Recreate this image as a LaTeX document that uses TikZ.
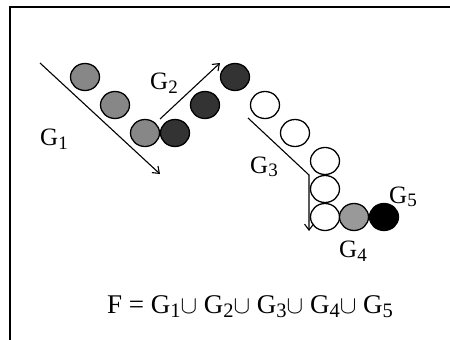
\documentclass[tikz,border=0pt]{standalone}
\usepackage{fontspec}
\setmainfont{Liberation Serif}
\usetikzlibrary{arrows.meta,shapes.geometric}
\newcommand\gsub[1]{\raisebox{-3.5pt}{\fontsize{19}{19}\selectfont #1}}
\newcommand\fsub[1]{\raisebox{-3.8pt}{\fontsize{20.5}{20.5}\selectfont #1}}
\definecolor{gmid}{HTML}{878787}
\definecolor{gdark}{HTML}{333333}
\definecolor{glight}{HTML}{999999}
\tikzset{
  ball/.style={ellipse, draw=black, line width=1.3pt, minimum width=29pt, minimum height=27pt, inner sep=0pt},
  lab/.style={font=\fontsize{25}{25}\selectfont, inner sep=0pt},
  flab/.style={font=\fontsize{27}{27}\selectfont, inner sep=0pt},
  arr/.style={line width=1.1pt, -{Straight Barb[length=6pt,width=9pt,line width=1.1pt]}}
}
\begin{document}
\begin{tikzpicture}[x=1pt,y=-1pt]
\useasboundingbox (0,0) rectangle (450,340);
\fill[white] (0,0) rectangle (450,340);
\draw[line width=1.3pt] (10,341) -- (10,7) -- (451,7);
% G1
\node[ball, fill=gmid] (a1) at (85,77) {};
\node[ball, fill=gmid] (a2) at (115,105) {};
\node[ball, fill=gmid] (a3) at (145,133) {};
% G2
\node[ball, fill=gdark] (b1) at (175,133) {};
\node[ball, fill=gdark] (b2) at (205,105) {};
\node[ball, fill=gdark] (b3) at (235,77) {};
% G3
\node[ball, fill=white] (c1) at (265,105) {};
\node[ball, fill=white] (c2) at (295,133) {};
\node[ball, fill=white] (c3) at (325,161) {};
\node[ball, fill=white] (c4) at (325,189) {};
\node[ball, fill=white] (c5) at (325,217) {};
% G4, G5
\node[ball, fill=glight] (d1) at (354,217) {};
\node[ball, fill=black] (e1) at (384,217) {};
% arrows
\coordinate (p1s) at (40,63);
\coordinate (p1e) at (160,174);
\coordinate (p2s) at (160,119);
\coordinate (p2e) at (220,63);
\coordinate (p3s) at (248,118);
\coordinate (p3m) at (309,175);
\coordinate (p3e) at (309,231);
\draw[arr] (p1s) -- (p1e);
\draw[arr] (p2s) -- (p2e);
\draw[arr] (p3s) -- (p3m) -- (p3e);
% labels
\node[lab] (l1) at (54,139) {G\gsub{1}};
\node[lab] (l2) at (164,83) {G\gsub{2}};
\node[lab] (l3) at (264,167) {G\gsub{3}};
\node[lab] (l4) at (353,251) {G\gsub{4}};
\node[lab] (l5) at (403,197) {G\gsub{5}};
\node[flab] (f) at (250,307) {F = G\fsub{1}$\cup$ G\fsub{2}$\cup$ G\fsub{3}$\cup$ G\fsub{4}$\cup$ G\fsub{5}};
\end{tikzpicture}
\end{document}
